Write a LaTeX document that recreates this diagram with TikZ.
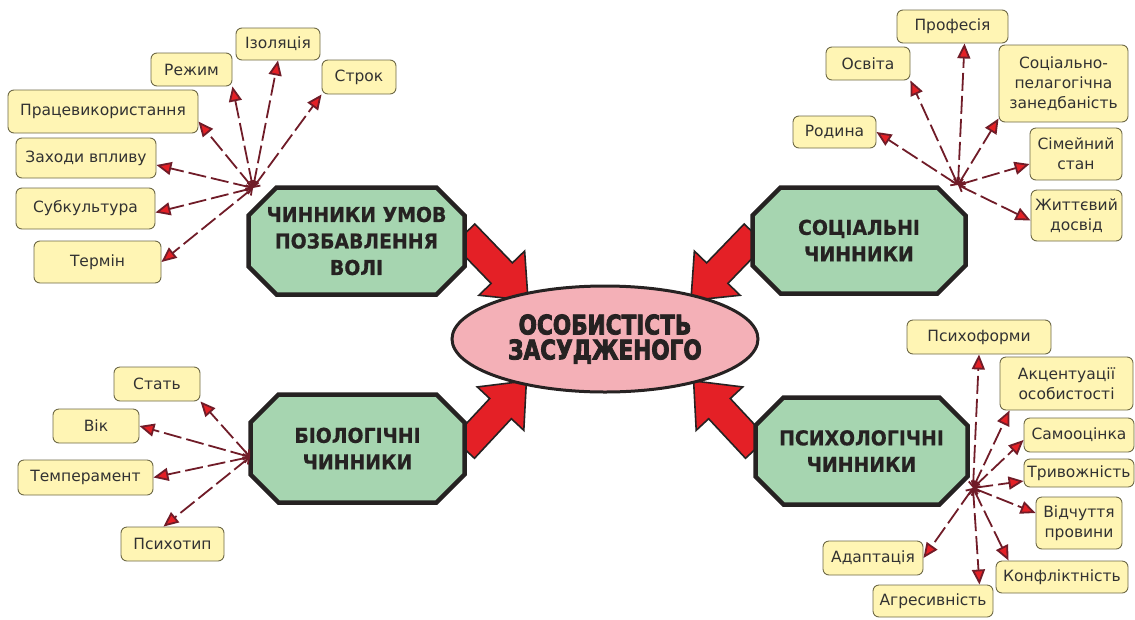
\documentclass[tikz,border=0pt]{standalone}
\usepackage{fontspec}
\setmainfont{DejaVu Sans}
\newfontfamily\headfont{DejaVu Sans}[FakeStretch=0.92,FakeBold=0.6]
\newfontfamily\corefont{DejaVu Sans}[FakeStretch=0.8,FakeBold=3]
\usetikzlibrary{arrows.meta,shapes.misc,shapes.geometric,shapes.arrows}
\definecolor{PNgreen}{RGB}{166,213,176}
\definecolor{PNpink}{RGB}{244,176,183}
\definecolor{PNyellow}{RGB}{255,245,180}
\definecolor{PNedge}{RGB}{110,105,70}
\definecolor{PNink}{RGB}{38,34,34}
\definecolor{PNtext}{RGB}{50,50,50}
\definecolor{PNmaroon}{RGB}{112,28,40}
\definecolor{PNred}{RGB}{228,32,38}
\tikzset{
  factor/.style={chamfered rectangle,chamfered rectangle xsep=14pt,chamfered rectangle ysep=14pt,
                 draw=PNink,line width=4.5pt,fill=PNgreen,text=PNink,align=center,
                 font=\headfont\bfseries\fontsize{20.5}{26.5}\selectfont},
  core/.style={ellipse,draw=PNink,line width=3pt,fill=PNpink,text=PNink,align=center,
               font=\corefont\bfseries\fontsize{27}{25}\selectfont},
  item/.style={rounded corners=6pt,draw=PNedge,line width=0.9pt,fill=PNyellow,text=PNtext,
               align=center,inner sep=2pt,font=\fontsize{15.5}{20}\selectfont},
  link/.style={draw=PNmaroon,line width=1.8pt,dash pattern=on 18pt off 5pt,
               {Straight Barb[length=5pt,width=9pt]}-{Triangle[length=15pt,width=13pt,fill=PNred]}},
  push/.style={single arrow,draw=PNink,fill=PNred,line width=1.6pt,inner xsep=0pt,inner ysep=14pt,
               single arrow head extend=17pt,single arrow tip angle=80,minimum height=92pt},
}

\begin{document}
\begin{tikzpicture}[x=1pt,y=-1pt]
    \useasboundingbox (0,0) rectangle (1135,619);
    % big arrows towards the centre
    \node[push,rotate=-46] (ar1) at (490,261) {};
    \node[push,rotate=-134] (ar2) at (729,261) {};
    \node[push,rotate=47] (ar3) at (489,421) {};
    \node[push,rotate=133] (ar4) at (731,421) {};
    \node[core,minimum width=306pt,minimum height=106pt] (core) at (605,339) {ОСОБИСТІСТЬ\\ЗАСУДЖЕНОГО};
    \node[factor,minimum width=216pt,minimum height=107pt] (fcond) at (356.5,241) {ЧИННИКИ УМОВ\\ПОЗБАВЛЕННЯ\\ВОЛІ};
    \node[factor,minimum width=213pt,minimum height=106pt] (fsoc) at (859,240.5) {СОЦІАЛЬНІ\\ЧИННИКИ};
    \node[factor,minimum width=214pt,minimum height=108pt] (fbio) at (357.5,448.5) {БІОЛОГІЧНІ\\ЧИННИКИ};
    \node[factor,minimum width=212pt,minimum height=107pt] (fpsy) at (861.5,451) {ПСИХОЛОГІЧНІ\\ЧИННИКИ};
    \coordinate (tlo) at (253,188);
    \coordinate (tro) at (958,185);
    \coordinate (blo) at (250,457);
    \coordinate (bro) at (973,488);
    % conditions of imprisonment
    \node[item,minimum width=84pt,minimum height=32pt] (izol) at (278,44) {Ізоляція};
    \node[item,minimum width=81pt,minimum height=33pt] (rezh) at (191.5,69.5) {Режим};
    \node[item,minimum width=74pt,minimum height=34pt] (strok) at (359,77) {Строк};
    \node[item,minimum width=190pt,minimum height=43pt] (prac) at (103,111.5) {Працевикористання};
    \node[item,minimum width=140pt,minimum height=40pt] (zakh) at (86,158) {Заходи впливу};
    \node[item,minimum width=139pt,minimum height=41pt] (subk) at (85.5,208.5) {Субкультура};
    \node[item,minimum width=127pt,minimum height=42pt] (term) at (97.5,262) {Термін};
    \draw[link] (tlo) -- (izol.south);
    \draw[link] (tlo) -- (rezh.south east);
    \draw[link] (tlo) -- (strok.south west);
    \draw[link] (tlo) -- ([yshift=-10pt]prac.east);
    \draw[link] (tlo) -- ([yshift=-7pt]zakh.east);
    \draw[link] (tlo) -- ([yshift=-4pt]subk.east);
    \draw[link] (tlo) -- (term.east);
    % social factors
    \node[item,minimum width=111pt,minimum height=33pt] (prof) at (952.5,26.5) {Професія};
    \node[item,minimum width=84pt,minimum height=33pt] (osv) at (868,63.5) {Освіта};
    \node[item,minimum width=129pt,minimum height=77pt] (socped) at (1063.5,83.5) {Соціально-\\пелагогічна\\занедбаність};
    \node[item,minimum width=83pt,minimum height=32pt] (rod) at (834.5,132) {Родина};
    \node[item,minimum width=92pt,minimum height=52pt] (sim) at (1076,154) {Сімейний\\стан};
    \node[item,minimum width=91pt,minimum height=51pt] (zhytt) at (1076.5,215.5) {Життєвий\\досвід};
    \draw[link] (tro) -- ([xshift=12pt]prof.south);
    \draw[link] (tro) -- (osv.south east);
    \draw[link] (tro) -- ([yshift=4pt]socped.south west);
    \draw[link] (tro) -- (rod.east);
    \draw[link] (tro) -- ([yshift=-10pt]sim.west);
    \draw[link] (tro) -- ([yshift=-5pt]zhytt.west);
    % biological factors
    \node[item,minimum width=86pt,minimum height=34pt] (stat) at (157,384) {Стать};
    \node[item,minimum width=86pt,minimum height=34pt] (vik) at (96,426) {Вік};
    \node[item,minimum width=135pt,minimum height=35pt] (temp) at (85.5,477.5) {Темперамент};
    \node[item,minimum width=103pt,minimum height=34pt] (psyt) at (172.5,544) {Психотип};
    \draw[link] (blo) -- (stat.south east);
    \draw[link] (blo) -- (vik.east);
    \draw[link] (blo) -- (temp.east);
    \draw[link] (blo) -- ([xshift=-9pt]psyt.north);
    % psychological factors
    \node[item,minimum width=144pt,minimum height=34pt] (psf) at (979,337) {Психоформи};
    \node[item,minimum width=133pt,minimum height=53pt] (akc) at (1066.5,383.5) {Акцентуації\\особистості};
    \node[item,minimum width=110pt,minimum height=34pt] (samo) at (1079,435) {Самооцінка};
    \node[item,minimum width=110pt,minimum height=28pt] (tryv) at (1079,473) {Тривожність};
    \node[item,minimum width=86pt,minimum height=52pt] (vidch) at (1079,523) {Відчуття\\провини};
    \node[item,minimum width=132pt,minimum height=32pt] (konf) at (1062,577) {Конфліктність};
    \node[item,minimum width=120pt,minimum height=32pt] (agr) at (933,601) {Агресивність};
    \node[item,minimum width=100pt,minimum height=34pt] (adapt) at (873,558) {Адаптація};
    \draw[link] (bro) -- (psf.south);
    \draw[link] (bro) -- ([xshift=10pt]akc.south west);
    \draw[link] (bro) -- ([yshift=-5pt]samo.west);
    \draw[link] (bro) -- ([yshift=-8pt]tryv.west);
    \draw[link] (bro) -- ([yshift=10pt]vidch.west);
    \draw[link] (bro) -- ([xshift=13pt]konf.north west);
    \draw[link] (bro) -- ([xshift=-14pt]agr.north east);
    \draw[link] (bro) -- (adapt.east);
\end{tikzpicture}
\end{document}
